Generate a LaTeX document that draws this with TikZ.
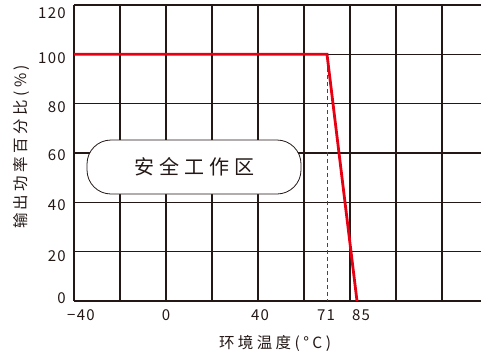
\documentclass[tikz,border=0pt]{standalone}
\usepackage{fontspec}
\setmainfont{Noto Sans CJK SC}
\newfontfamily\tickfont[LetterSpace=9]{Noto Sans CJK SC}
\newfontfamily\titlefont[LetterSpace=22]{Noto Sans CJK SC}
\newfontfamily\zonefont[LetterSpace=25]{Noto Sans CJK SC}
\definecolor{gridc}{HTML}{231815}
\definecolor{redc}{HTML}{E60012}
\tikzstyle{gridline}=[line width=1.4pt,color=gridc]
\tikzstyle{ticklabel}=[inner sep=0pt,text=gridc,font=\tickfont\fontsize{15}{15}\selectfont]
\tikzstyle{axistitle}=[inner sep=0pt,text=gridc,font=\titlefont\fontsize{15.5}{15.5}\selectfont]
\tikzstyle{zonebox}=[draw=gridc,fill=white,line width=0.8pt,rounded corners=24pt,minimum width=214pt,minimum height=54pt,inner sep=0pt,text=gridc,font=\zonefont\fontsize{20}{20}\selectfont]
\tikzstyle{derate}=[line width=2.8pt,color=redc,line join=miter]
\tikzstyle{guide}=[line width=1pt,color=redc,dash pattern=on 4pt off 3pt]

\begin{document}
\begin{tikzpicture}[x=1pt,y=-1pt]
    \useasboundingbox (0,0) rectangle (481,356);
    % grid
    \foreach \x in {74,120,...,442}
    \draw[gridline] (\x,5) -- (\x,301);
    \foreach \i in {0,...,6}
    \draw[gridline] (74,5+\i*49.333) -- (481,5+\i*49.333);

    % safe zone
    \node[zonebox] (zone) at (194,167) {安全工作区};

    % derating curve
    \coordinate (start) at (74,54.33);
    \coordinate (knee) at (327,54.33);
    \coordinate (stop) at (357,301);
    \coordinate (kneefoot) at (327,301);
    \draw[guide] (knee) -- (kneefoot);
    \draw[derate] (start) -- (knee) -- (stop);

    % y ticks
    \foreach \v/\y in {120/13,100/58,80/107,60/155,40/205,20/256,0/298}
    \node[ticklabel,anchor=east] (y\v) at (66,\y) {\v};
    % x ticks
    \node[ticklabel] (xm40) at (81,315) {−40};
    \node[ticklabel] (x0) at (166,315) {0};
    \node[ticklabel] (x40) at (260,315) {40};
    \node[ticklabel] (x71) at (326,315) {71};
    \node[ticklabel] (x85) at (361,315) {85};

    % titles
    \node[axistitle,rotate=90] (ytitle) at (21,147) {输出功率百分比(\%)};
    \node[axistitle] (xtitle) at (275,343) {环境温度(°C)};
\end{tikzpicture}
\end{document}
